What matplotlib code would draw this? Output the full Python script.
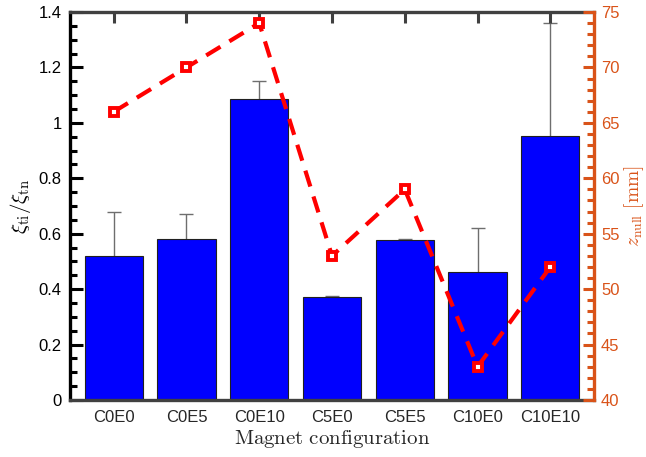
import numpy as np
import matplotlib
matplotlib.use("Agg")
import matplotlib.pyplot as plt
from matplotlib.ticker import MultipleLocator

plt.rcParams["font.family"] = ["Liberation Sans", "DejaVu Sans"]
plt.rcParams["mathtext.fontset"] = "cm"

# ── data ──
configs = ["C0E0", "C0E5", "C0E10", "C5E0", "C5E5", "C10E0", "C10E10"]
xi_ratio = [0.52, 0.58, 1.085, 0.372, 0.577, 0.463, 0.953]
xi_err = [0.158, 0.092, 0.067, 0.003, 0.003, 0.158, 0.407]
z_null = [66, 70, 74, 53, 59, 43, 52]

ORANGE = "#D95319"
GRAY = "#262626"

fig = plt.figure(figsize=(6.46, 4.57), dpi=100)
ax1 = fig.add_axes([0.1084, 0.1247, 0.8111, 0.849])
ax2 = ax1.twinx()

x = np.arange(1, len(configs) + 1)
ax1.errorbar(x, xi_ratio, yerr=xi_err, fmt="none", ecolor="#6e6e6e",
             elinewidth=1.0, capsize=5, capthick=1.0, zorder=1)
ax1.bar(x, xi_ratio, 0.8, color="#0000ff", edgecolor="#202020",
        linewidth=0.8, zorder=2)

ax1.set_xlim(0.4, 7.6)
ax1.set_ylim(0, 1.4)
ax1.set_xticks(x)
ax1.set_xticklabels(configs)
ax1.yaxis.set_minor_locator(MultipleLocator(0.05))
ax1.set_yticks([0, 0.2, 0.4, 0.6, 0.8, 1, 1.2, 1.4])
ax1.set_yticklabels(["0", "0.2", "0.4", "0.6", "0.8", "1", "1.2", "1.4"])

ax1.tick_params(axis="y", which="major", direction="in", length=9, width=2.2,
                colors="k", labelsize=12, left=True, right=False, pad=6)
ax1.tick_params(axis="y", which="minor", direction="in", length=5, width=2.2,
                colors="k", left=True, right=False)
ax1.tick_params(axis="x", direction="in", length=8, width=2.2, color="#404040",
                labelcolor=GRAY, labelsize=12, top=True, bottom=True, pad=7)

ax1.spines["left"].set_color("k")
ax1.spines["left"].set_linewidth(2.4)
for side in ("top", "bottom"):
    ax1.spines[side].set_color("#404040")
    ax1.spines[side].set_linewidth(2.4)
ax1.spines["right"].set_visible(False)

ax1.set_xlabel(r"$\mathrm{Magnet\ configuration}$", fontsize=15, color=GRAY,
               labelpad=2)
ax1.set_ylabel(r"$\xi_{\mathrm{ti}}/\xi_{\mathrm{tn}}$", fontsize=15, labelpad=4)

ax2.plot(x, z_null, color="#ff0000", linestyle=(0, (4, 2.5)), linewidth=3,
         marker="s", markersize=6, markerfacecolor="white",
         markeredgecolor="#ff0000", markeredgewidth=2.8, zorder=3)
ax2.set_ylim(40, 75)
ax2.yaxis.set_major_locator(MultipleLocator(5))
ax2.yaxis.set_minor_locator(MultipleLocator(1))
ax2.tick_params(axis="y", which="major", direction="in", length=8, width=2.2,
                colors=ORANGE, labelsize=12, pad=5)
ax2.tick_params(axis="y", which="minor", direction="in", length=5, width=2.2,
                colors=ORANGE)
for side in ("top", "bottom", "left"):
    ax2.spines[side].set_visible(False)
ax2.spines["right"].set_color(ORANGE)
ax2.spines["right"].set_linewidth(2.4)
ax2.set_ylabel(r"$z_{\mathrm{null}}\ [\mathrm{mm}]$", fontsize=14,
               color=ORANGE, labelpad=2)

fig.savefig("out.png", dpi=100)
